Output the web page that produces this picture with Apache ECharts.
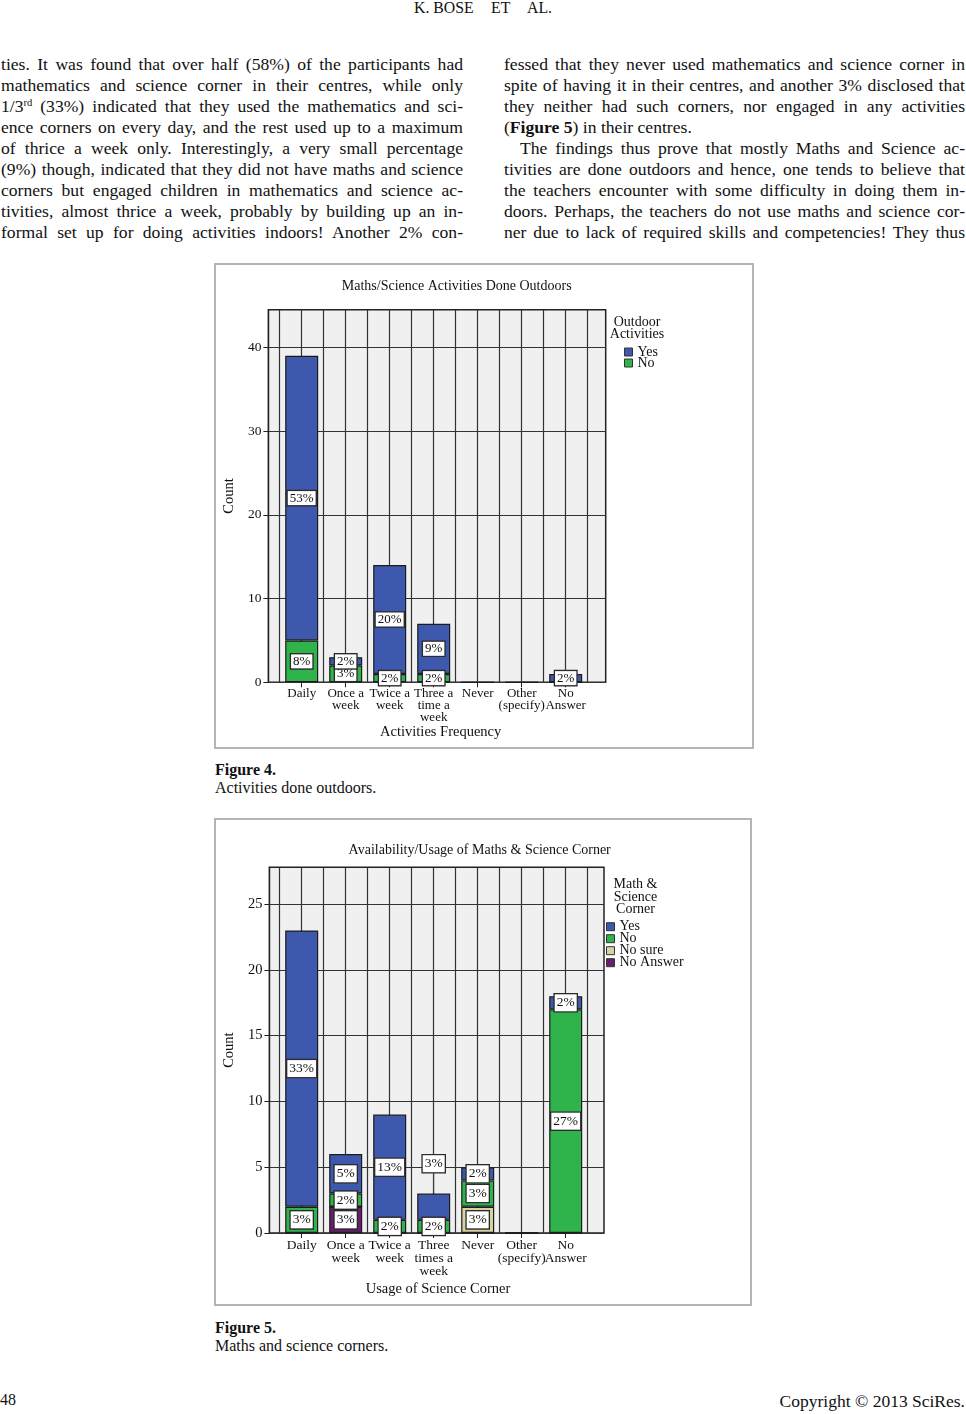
<!DOCTYPE html>
<html>
<head>
<meta charset="utf-8">
<script src="https://cdn.jsdelivr.net/npm/echarts@6/dist/echarts.min.js"></script>
<style>
  html, body { margin:0; padding:0; background:#fff; }
  body { width:966px; height:1414px; position:relative; overflow:hidden; font-family:"Liberation Serif","Times New Roman",serif; color:#111; }
  .abs { position:absolute; }
  .col { position:absolute; top:54px; font-size:17.6px; }
  .ln { height:21px; line-height:21px; text-align:justify; text-align-last:justify; white-space:nowrap; }
  .ln.last { text-align-last:left; }
  .ind { text-indent:16px; }
  sup { font-size:10.5px; line-height:0; vertical-align:6px; }
  .hdr { position:absolute; top:0px; font-size:15.8px; line-height:15px; }
  .cap { position:absolute; left:215px; font-size:16px; line-height:18px; }
  .frame { position:absolute; box-sizing:border-box; border:2px solid #b4b4b4; pointer-events:none; }
</style>
</head>
<body>
<div class="hdr" style="left:414px;">K. BOSE</div>
<div class="hdr" style="left:491px;">ET</div>
<div class="hdr" style="left:527px;">AL.</div>

<div class="col" style="left:1px; width:462px;">
  <div class="ln"><span>ties. It was found that over half (58%) of the participants had</span></div>
  <div class="ln"><span>mathematics and science corner in their centres, while only</span></div>
  <div class="ln"><span>1/3<sup>rd</sup> (33%) indicated that they used the mathematics and sci-</span></div>
  <div class="ln"><span>ence corners on every day, and the rest used up to a maximum</span></div>
  <div class="ln"><span>of thrice a week only. Interestingly, a very small percentage</span></div>
  <div class="ln"><span>(9%) though, indicated that they did not have maths and science</span></div>
  <div class="ln"><span>corners but engaged children in mathematics and science ac-</span></div>
  <div class="ln"><span>tivities, almost thrice a week, probably by building up an in-</span></div>
  <div class="ln"><span>formal set up for doing activities indoors! Another 2% con-</span></div>
</div>
<div class="col" style="left:504px; width:461px;">
  <div class="ln"><span>fessed that they never used mathematics and science corner in</span></div>
  <div class="ln"><span>spite of having it in their centres, and another 3% disclosed that</span></div>
  <div class="ln"><span>they neither had such corners, nor engaged in any activities</span></div>
  <div class="ln last"><span>(<b>Figure 5</b>) in their centres.</span></div>
  <div class="ln ind"><span>The findings thus prove that mostly Maths and Science ac-</span></div>
  <div class="ln"><span>tivities are done outdoors and hence, one tends to believe that</span></div>
  <div class="ln"><span>the teachers encounter with some difficulty in doing them in-</span></div>
  <div class="ln"><span>doors. Perhaps, the teachers do not use maths and science cor-</span></div>
  <div class="ln"><span>ner due to lack of required skills and competencies! They thus</span></div>
</div>

<div id="fig4" class="abs" style="left:214px; top:263px; width:540px; height:486px;"></div>
<div class="frame" style="left:214px; top:263px; width:540px; height:486px;"></div>
<div class="cap" style="top:761px;"><b>Figure 4.</b></div>
<div class="cap" style="top:779px;">Activities done outdoors.</div>

<div id="fig5" class="abs" style="left:214px; top:818px; width:538px; height:488px;"></div>
<div class="frame" style="left:214px; top:818px; width:538px; height:488px;"></div>
<div class="cap" style="top:1319px;"><b>Figure 5.</b></div>
<div class="cap" style="top:1337px;">Maths and science corners.</div>

<div class="abs" style="left:0px; top:1390px; font-size:16px; line-height:19px;">48</div>
<div class="abs" style="right:1px; top:1392px; font-size:17.5px; line-height:19px;">Copyright © 2013 SciRes.</div>

<script>
// shrink word spacing of any body line that would not fit its column
document.querySelectorAll('.ln').forEach(function (ln) {
  var span = ln.firstElementChild;
  var indent = ln.classList.contains('ind') ? 16 : 0;
  var avail = ln.clientWidth - indent;
  var w = span.getBoundingClientRect().width;
  if (w > avail) {
    var spaces = (span.textContent.match(/ /g) || []).length;
    if (spaces > 0) ln.style.wordSpacing = ((avail - w) / spaces - 0.05) + 'px';
  }
});

// ---------------- Figure 4 data ----------------
const fig4Categories = ['Daily', 'Once a\nweek', 'Twice a\nweek', 'Three a\ntime a\nweek', 'Never', 'Other\n(specify)', 'No\nAnswer'];
const fig4Yes = [34, 1, 13, 6, 0, 0, 1];
const fig4No = [5, 2, 1, 1, 0, 0, 0];
const fig4YesPct = ['53%', '2%', '20%', '9%', '', '', '2%'];
const fig4NoPct = ['8%', '3%', '2%', '2%', '', '', ''];
const fig4YTicks = [0, 10, 20, 30, 40];

// ---------------- Figure 5 data ----------------
const fig5Categories = ['Daily', 'Once a\nweek', 'Twice a\nweek', 'Three\ntimes a\nweek', 'Never', 'Other\n(specify)', 'No\nAnswer'];
const fig5Yes = [21, 3, 8, 2, 1, 0, 1];
const fig5No = [2, 1, 1, 1, 2, 0, 17];
const fig5NoSure = [0, 0, 0, 0, 2, 0, 0];
const fig5NoAnswer = [0, 2, 0, 0, 0, 0, 0];
const fig5YesPct = ['33%', '5%', '13%', '3%', '2%', '', '2%'];
const fig5NoPct = ['3%', '2%', '2%', '2%', '3%', '', '27%'];
const fig5NoSurePct = ['', '', '', '', '3%', '', ''];
const fig5NoAnswerPct = ['', '3%', '', '', '', '', ''];
const fig5YTicks = [0, 5, 10, 15, 20, 25];

const FONT = 'Liberation Serif';
const COLORS = { yes: '#3d58ad', no: '#2fb34b', noSure: '#d8d1a3', noAnswer: '#6a1d6e' };

function makeSeries(name, values, pcts, color, cfg, extra) {
  return Object.assign({
    type: 'bar', name: name, stack: 'total', xAxisIndex: 0, yAxisIndex: 1,
    barWidth: 33,
    itemStyle: { color: color, borderColor: '#1c1c1c', borderWidth: 1.2 },
    data: values.map(function (v, i) {
      return { value: v, label: { show: pcts[i] !== '' } };
    }),
    label: {
      show: true, position: 'inside',
      formatter: function (p) { return pcts[p.dataIndex]; },
      fontFamily: FONT, fontSize: cfg.labelFont, color: '#111',
      backgroundColor: '#fff', borderColor: '#2a2a2a', borderWidth: 1.3,
      padding: cfg.labelPad
    }
  }, extra || {});
}

function buildOption(cfg) {
  return {
    animation: false,
    textStyle: { fontFamily: FONT },
    grid: [
      { left: cfg.plotLeft, top: cfg.plotTop, width: cfg.plotWidth, height: cfg.plotHeight,
        show: true, backgroundColor: '#f0f0f0', borderColor: '#222', borderWidth: 1.5 },
      { left: cfg.catLeft, top: cfg.plotTop, width: cfg.catWidth, height: cfg.plotHeight }
    ],
    xAxis: [
      { type: 'category', gridIndex: 1, data: cfg.categories,
        axisLine: { show: false },
        axisTick: { show: true, alignWithLabel: true, length: 5, lineStyle: { color: '#222' } },
        axisLabel: { interval: 0, margin: cfg.catMargin, fontSize: cfg.catFont, lineHeight: cfg.catLine, color: '#111', fontFamily: FONT },
        splitLine: { show: false } },
      { type: 'value', gridIndex: 1, min: 0, max: 14, interval: 1,
        axisLine: { show: false }, axisTick: { show: false }, axisLabel: { show: false },
        splitLine: { show: true, lineStyle: { color: '#333', width: 1.2 } } },
      { type: 'value', gridIndex: 0, show: false }
    ],
    yAxis: [
      { type: 'value', gridIndex: 0, min: 0, max: cfg.yMax, interval: cfg.yGrid,
        name: 'Count', nameLocation: 'middle', nameGap: cfg.nameGap,
        nameTextStyle: { fontSize: 14.5, color: '#111', fontFamily: FONT },
        axisLine: { show: true, lineStyle: { color: '#222', width: 1.2 } },
        axisTick: { show: true, customValues: cfg.yTicks, length: 5, lineStyle: { color: '#222' } },
        axisLabel: { customValues: cfg.yTicks, margin: 7, fontSize: cfg.yFont, color: '#111', fontFamily: FONT,
          formatter: function (v) { return cfg.yTicks.indexOf(v) >= 0 ? String(v) : ''; } },
        splitLine: { show: true, lineStyle: { color: '#333', width: 1.2 } } },
      { type: 'value', gridIndex: 1, min: 0, max: cfg.yMax, show: false }
    ],
    legend: {
      data: cfg.legendNames, orient: 'vertical', left: cfg.legendLeft, top: cfg.legendTop,
      padding: 0, itemWidth: 8, itemHeight: 8, itemGap: cfg.legendGap, icon: 'rect',
      itemStyle: { borderColor: '#333', borderWidth: 1 },
      textStyle: { fontSize: 14, color: '#111', fontFamily: FONT }
    },
    graphic: [
      { type: 'text', x: cfg.titleX, y: cfg.titleY,
        style: { text: cfg.title, align: 'center', verticalAlign: 'middle', font: '14px "Liberation Serif"', fill: '#111' } },
      { type: 'text', x: cfg.legTitleX, y: cfg.legTitleY,
        style: { text: cfg.legendTitle, align: 'center', verticalAlign: 'middle', font: '14px "Liberation Serif"', lineHeight: cfg.legTitleLine, fill: '#111' } },
      { type: 'text', x: cfg.xNameX, y: cfg.xNameY,
        style: { text: cfg.xName, align: 'center', verticalAlign: 'middle', font: '14.5px "Liberation Serif"', fill: '#111' } }
    ],
    series: cfg.series
  };
}

// ---------- Figure 4 ----------
const cfg4 = {
  plotLeft: 48.5, plotTop: 46.7, plotWidth: 343.2, plotHeight: 372.6,
  catLeft: 65.7, catWidth: 308, catMargin: 5, catFont: 13, catLine: 12,
  yMax: 44.5, yGrid: 5, yTicks: fig4YTicks, yFont: 13.5, nameGap: 24,
  categories: fig4Categories,
  labelFont: 13, labelPad: [1, 2, 0, 2],
  legendNames: ['Yes', 'No'], legendLeft: 410, legendTop: 82, legendGap: -3,
  title: 'Maths/Science Activities Done Outdoors', titleX: 242.7, titleY: 23,
  legendTitle: 'Outdoor\nActivities', legTitleX: 423, legTitleY: 65.3, legTitleLine: 12.7,
  xName: 'Activities Frequency', xNameX: 226.7, xNameY: 468.7
};
cfg4.series = [
  makeSeries('No', fig4No, fig4NoPct, COLORS.no, cfg4),
  makeSeries('Yes', fig4Yes, fig4YesPct, COLORS.yes, cfg4)
];
echarts.init(document.getElementById('fig4'), null, { renderer: 'canvas' }).setOption(buildOption(cfg4));

// ---------- Figure 5 ----------
const cfg5 = {
  plotLeft: 48.3, plotTop: 49.3, plotWidth: 341.7, plotHeight: 365.7,
  catLeft: 65.7, catWidth: 308, catMargin: 5.5, catFont: 13.5, catLine: 13,
  yMax: 27.8, yGrid: 2.5, yTicks: fig5YTicks, yFont: 14.5, nameGap: 24,
  categories: fig5Categories,
  labelFont: 13.5, labelPad: [2, 2, 1, 2],
  legendNames: ['Yes', 'No', 'No sure', 'No Answer'], legendLeft: 392, legendTop: 101.7, legendGap: -2,
  title: 'Availability/Usage of Maths & Science Corner', titleX: 265.7, titleY: 32,
  legendTitle: 'Math &\nScience\nCorner', legTitleX: 421.5, legTitleY: 79, legTitleLine: 12.2,
  xName: 'Usage of Science Corner', xNameX: 224, xNameY: 471
};
const yes5 = makeSeries('Yes', fig5Yes, fig5YesPct, COLORS.yes, cfg5, {
  labelLayout: function (p) {
    if (p.dataIndex === 3) { return { dy: -43 }; }
    return {};
  }
});
yes5.data[3].labelLine = { show: true, lineStyle: { color: '#444', width: 1 } };
cfg5.series = [
  makeSeries('No Answer', fig5NoAnswer, fig5NoAnswerPct, COLORS.noAnswer, cfg5),
  makeSeries('No sure', fig5NoSure, fig5NoSurePct, COLORS.noSure, cfg5),
  makeSeries('No', fig5No, fig5NoPct, COLORS.no, cfg5),
  yes5
];
echarts.init(document.getElementById('fig5'), null, { renderer: 'canvas' }).setOption(buildOption(cfg5));
</script>
</body>
</html>
